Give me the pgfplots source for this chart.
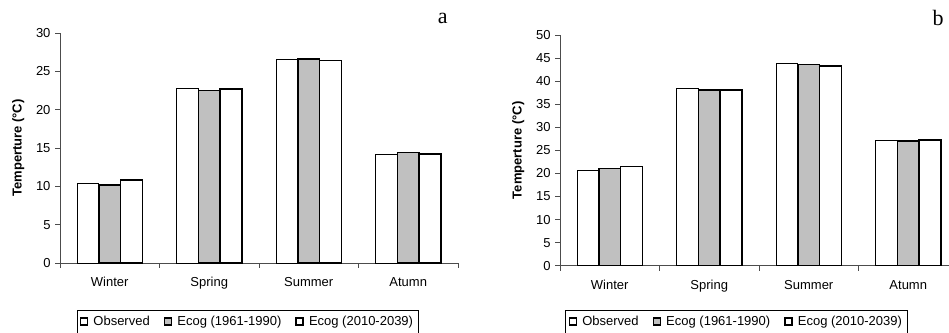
\documentclass[border=0pt]{standalone}
\usepackage{pgfplots}
\pgfplotsset{compat=1.18}
\usepackage{fontspec}
\setmainfont{Liberation Sans}
\newfontfamily\serif{Liberation Serif}
\definecolor{barGray}{RGB}{192,192,192}
\pgfplotstableread{
x obs ecogA ecogB
0 10.4 10.2 10.8
1 22.8 22.5 22.7
2 26.6 26.6 26.4
3 14.2 14.4 14.2
}\tablea
\pgfplotstableread{
x obs ecogA ecogB
0 20.7 21.1 21.5
1 38.4 38.1 38.1
2 43.9 43.6 43.3
3 27.2 27.0 27.2
}\tableb
\pgfplotsset{
  myaxis/.style={
    scale only axis,
    width=398bp,
    axis lines*=left,
    axis line style={black!70, line width=0.8pt},
    xmin=-0.5, xmax=3.5,
    ymin=0,
    xtick={0,1,2,3},
    xticklabels={Winter,Spring,Summer,Atumn},
    major x tick style={draw=none},
    minor xtick={-0.5,0.5,1.5,2.5,3.5},
    minor x tick style={black!70, line width=0.8pt},
    minor tick length=5bp,
    major tick length=5bp,
    y tick style={black!70, line width=0.8pt},
    tick align=outside,
    tick pos=left,
    ticklabel style={font=\fontsize{13bp}{15bp}\selectfont},
    xticklabel style={yshift=-6bp},
    yticklabel style={xshift=-1bp},
    /pgf/number format/assume math mode=true,
    ylabel={Temperture (°C)},
    every axis y label/.style={at={(axis description cs:-0.105,0.5)}, rotate=90, anchor=center,
      font=\bfseries\fontsize{13bp}{15bp}\selectfont},
    ybar, bar width=0.22,
    legend columns=3,
    legend cell align=left,
    legend style={draw=black, line width=0.6pt, font=\fontsize{13bp}{15bp}\selectfont,
      inner xsep=3bp, inner ysep=4bp,
      /tikz/every odd column/.append style={column sep=3bp},
      /tikz/every even column/.append style={column sep=12bp}},
    legend image code/.code={\draw[#1, line width=1.6pt] (0bp,-3.5bp) rectangle (7bp,3.5bp);},
    clip=false,
  }
}
\begin{document}
\begin{tikzpicture}
\useasboundingbox (0,0) rectangle (949bp,333bp);
\begin{axis}[myaxis, at={(60bp,70bp)}, anchor=south west, height=230bp, ymax=30, ytick={0,5,...,30},
  legend style={at={(0.471,-0.204)}, anchor=north}]
\addplot[draw=black, line width=0.8pt, fill=white, bar shift=-0.22] table[x=x,y=obs]{\tablea};
\addplot[draw=black, line width=1.5pt, fill=barGray, bar shift=0] table[x=x,y=ecogA]{\tablea};
\addplot[draw=black, line width=1.5pt, fill=white, bar shift=0.22] table[x=x,y=ecogB]{\tablea};
\legend{Observed,Ecog (1961-1990),Ecog (2010-2039)}
\node[font=\serif\fontsize{22bp}{24bp}\selectfont] at (axis description cs:0.962,1.065) {a};
\end{axis}
\begin{axis}[myaxis, at={(560bp,67.3bp)}, anchor=south west, height=230.7bp, ymax=50, ytick={0,5,...,50},
  legend style={at={(0.443,-0.192)}, anchor=north}]
\addplot[draw=black, line width=0.8pt, fill=white, bar shift=-0.22] table[x=x,y=obs]{\tableb};
\addplot[draw=black, line width=1.5pt, fill=barGray, bar shift=0] table[x=x,y=ecogA]{\tableb};
\addplot[draw=black, line width=1.5pt, fill=white, bar shift=0.22] table[x=x,y=ecogB]{\tableb};
\legend{Observed,Ecog (1961-1990),Ecog (2010-2039)}
\node[font=\serif\fontsize{22bp}{24bp}\selectfont] at (axis description cs:0.95,1.074) {b};
\end{axis}
\end{tikzpicture}
\end{document}
